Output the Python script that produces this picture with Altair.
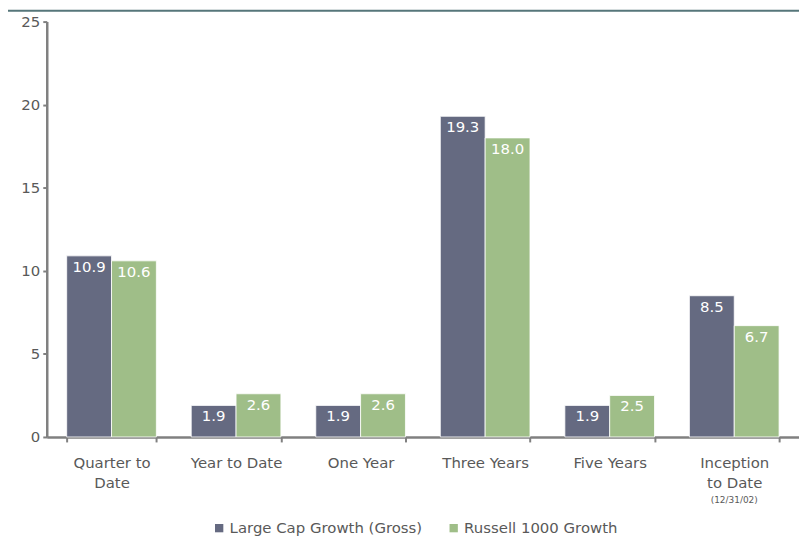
import altair as alt
import pandas as pd

categories = ["Quarter to Date", "Year to Date", "One Year", "Three Years", "Five Years", "Inception to Date"]
series = ["Large Cap Growth (Gross)", "Russell 1000 Growth"]
large_cap = [10.9, 1.9, 1.9, 19.3, 1.9, 8.5]
russell = [10.6, 2.6, 2.6, 18.0, 2.5, 6.7]
colors = ["#656A81", "#9FBE88"]
y_ticks = [0, 5, 10, 15, 20, 25]

rows = []
for c, a, b in zip(categories, large_cap, russell):
    rows.append({"category": c, "series": series[0], "value": a})
    rows.append({"category": c, "series": series[1], "value": b})
df = pd.DataFrame(rows)

FONT = "DejaVu Sans"
GREY = "#595959"
AXIS = "#808080"

x = alt.X("category:N", sort=categories, title=None,
          scale=alt.Scale(paddingInner=0.28, paddingOuter=0.16),
          axis=alt.Axis(labelAngle=0, labelFontSize=15, labelColor=GREY, labelFont=FONT,
                        labelLineHeight=20, labelPadding=14, tickBand="extent", grid=False,
                        tickSize=5, tickColor=AXIS, tickWidth=2,
                        domainColor=AXIS, domainWidth=2.5,
                        labelExpr="datum.value == 'Quarter to Date' ? ['Quarter to', 'Date'] : datum.value == 'Inception to Date' ? ['Inception', 'to Date'] : datum.value"))
xo = alt.XOffset("series:N", sort=series, scale=alt.Scale(paddingInner=0, paddingOuter=0))
y = alt.Y("value:Q", title=None,
          scale=alt.Scale(domain=[0, 25], nice=False),
          axis=alt.Axis(values=y_ticks, grid=False, labelFontSize=15, labelColor=GREY, labelFont=FONT,
                        tickSize=4, tickColor=AXIS, tickWidth=2, labelPadding=3,
                        domainColor=AXIS, domainWidth=2.5))

base = alt.Chart(df)
bars = base.mark_bar(stroke="white", strokeWidth=0.8).encode(
    x=x, xOffset=xo, y=y,
    color=alt.Color("series:N", sort=series, scale=alt.Scale(domain=series, range=colors),
                    legend=alt.Legend(title=None, orient="none", legendX=166, legendY=502,
                                      direction="horizontal", symbolType="square", symbolSize=70,
                                      symbolStrokeWidth=0, labelFontSize=15, labelColor=GREY,
                                      labelFont=FONT, columnPadding=24, labelOffset=3, labelLimit=0)),
)
labels = base.mark_text(baseline="top", dy=4, color="white", fontSize=15, font=FONT).encode(
    x=x, xOffset=xo, y=y, text=alt.Text("value:Q", format=".1f"),
)
sub = alt.Chart(pd.DataFrame({"category": ["Inception to Date"], "t": ["(12/31/02)"]})).mark_text(
    fontSize=9, color=GREY, font=FONT, baseline="middle").encode(
    x=alt.X("category:N", sort=categories), y=alt.value(481), text="t:N")
topline = alt.Chart(pd.DataFrame({"a": [0]})).mark_rule(color="#56767A", strokeWidth=2).encode(
    x=alt.value(-39), x2=alt.value(800), y=alt.value(-11))

chart = alt.layer(bars, labels, sub, topline).properties(
    width=757, height=418,
    autosize=alt.AutoSizeParams(type="none"),
    padding={"left": 39, "top": 12, "right": 0, "bottom": 101},
).configure(font=FONT).configure_view(stroke=None, strokeWidth=0)

chart.save("out.html", embed_options={"renderer": "svg", "actions": False})
